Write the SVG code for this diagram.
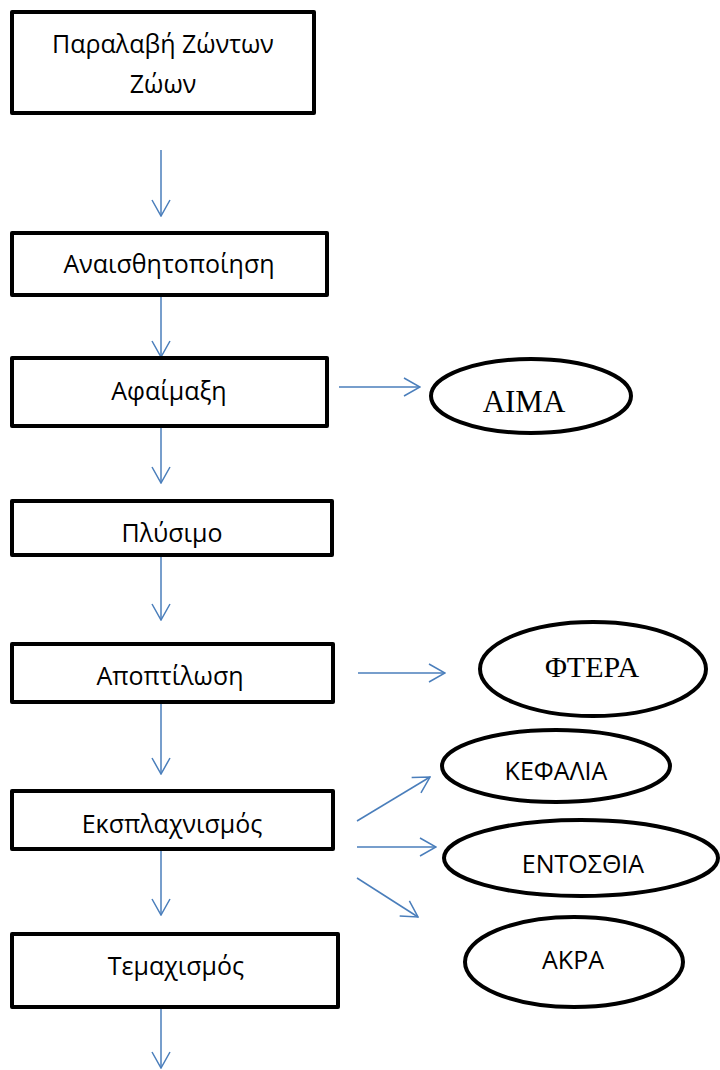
<svg xmlns="http://www.w3.org/2000/svg" width="720" height="1070" viewBox="0 0 720 1070">
<style>
.box{fill:#fff;stroke:#000;stroke-width:4;stroke-linejoin:round}
.ell{fill:#fff;stroke:#000;stroke-width:4}
.t{font-family:"Open Sans","Liberation Sans",sans-serif;font-size:25px;fill:#000;text-anchor:middle}
.s{font-family:"Liberation Serif","Times New Roman",serif;fill:#000;text-anchor:middle}
.c{stroke:#4a7ebb;stroke-width:1.5;fill:none}
</style>
<defs>
<marker id="ah" viewBox="0 0 18 20" refX="17" refY="10" markerWidth="18" markerHeight="20" markerUnits="userSpaceOnUse" orient="auto">
<path d="M1,1 L17,10 L1,19" fill="none" stroke="#4a7ebb" stroke-width="1.5"/>
</marker>
</defs>
<rect width="720" height="1070" fill="#fff"/>
<g id="connectors" class="c" marker-end="url(#ah)">
<line x1="161" y1="150" x2="161" y2="216"/>
<line x1="161" y1="296" x2="161" y2="357"/>
<line x1="161" y1="427" x2="161" y2="483"/>
<line x1="161" y1="556" x2="161" y2="620"/>
<line x1="161" y1="703" x2="161" y2="774"/>
<line x1="161" y1="850" x2="161" y2="915"/>
<line x1="161" y1="1008" x2="161" y2="1068"/>
<line x1="339" y1="387" x2="420" y2="387"/>
<line x1="358" y1="673" x2="445" y2="673"/>
<line x1="357" y1="821" x2="430" y2="777"/>
<line x1="357" y1="847" x2="436" y2="847"/>
<line x1="357" y1="878" x2="418" y2="917"/>
</g>
<g id="n1"><rect class="box" x="12" y="12" width="302" height="101"/><text class="t" x="163" y="53">Παραλαβή Ζώντων</text><text class="t" x="163" y="93">Ζώων</text></g>
<g id="n2"><rect class="box" x="12" y="233" width="315" height="62"/><text class="t" x="169" y="273">Αναισθητοποίηση</text></g>
<g id="n3"><rect class="box" x="12" y="358" width="315" height="68"/><text class="t" x="169" y="400">Αφαίμαξη</text></g>
<g id="n4"><rect class="box" x="12" y="501" width="320" height="54"/><text class="t" x="172" y="542">Πλύσιμο</text></g>
<g id="n5"><rect class="box" x="12" y="644" width="321" height="58"/><text class="t" x="170" y="685">Αποπτίλωση</text></g>
<g id="n6"><rect class="box" x="12" y="791" width="321" height="58"/><text class="t" x="172" y="833">Εκσπλαχνισμός</text></g>
<g id="n7"><rect class="box" x="12" y="934" width="326" height="73"/><text class="t" x="176" y="975">Τεμαχισμός</text></g>
<g id="aima"><ellipse class="ell" cx="531" cy="396" rx="100" ry="37"/><text class="s" x="524" y="412" font-size="31">AIMA</text></g>
<g id="ftera"><ellipse class="ell" cx="593" cy="669" rx="113" ry="47"/><text class="s" x="592" y="677" font-size="30">ΦΤΕΡΑ</text></g>
<g id="kefalia"><ellipse class="ell" cx="556" cy="766" rx="114" ry="36"/><text class="t" x="556" y="780">ΚΕΦΑΛΙΑ</text></g>
<g id="entosthia"><ellipse class="ell" cx="581" cy="858" rx="137" ry="38"/><text class="t" x="583" y="873">ΕΝΤΟΣΘΙΑ</text></g>
<g id="akra"><ellipse class="ell" cx="574" cy="962" rx="109" ry="45"/><text class="t" x="573" y="969">ΑΚΡΑ</text></g>
</svg>
